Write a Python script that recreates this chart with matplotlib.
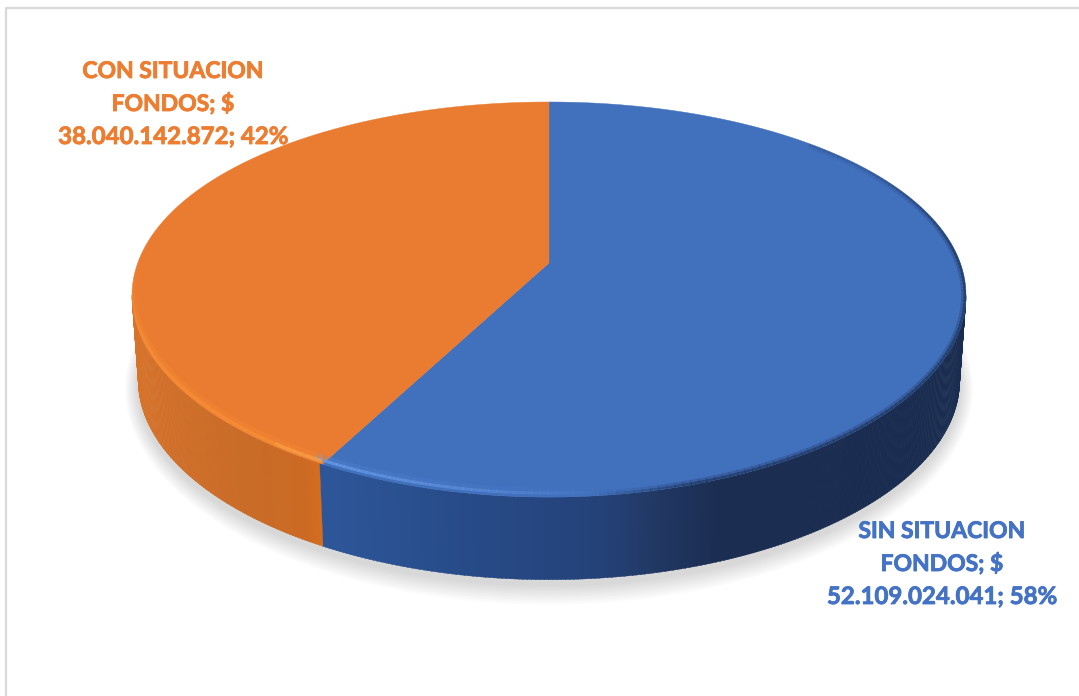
# Pie with a tilted 3D look, drawn by hand from the two values

import numpy as np
import matplotlib
matplotlib.use("Agg")
import matplotlib.pyplot as plt
import matplotlib.patheffects as pe
from matplotlib.patches import Polygon

categories = ["SIN SITUACION", "CON SITUACION"]
values = [52109024041, 38040142872]
colors = ["#4170BD", "#E97C30"]
label_colors = ["#4472C4", "#ED7D31"]
label_x = [942, 173]
label_y = [[538, 571, 604], [78, 111, 144]]

# stops for the shaded side, x pixel -> colour
side_x = [130, 170, 250, 305, 322, 330, 480, 600, 660, 720, 970]
side_rgb = ["#D8732A", "#D06F2A", "#C86C28", "#CC6A24", "#D66D1E",
            "#2D5699", "#274A86", "#24427A", "#213863", "#1B2E52", "#1A2D50"]

K = 0.185
KX = 0.165


def project(theta, cx, cy, a, b):
# theta in degrees clockwise from the top of the pie
# returns pixel x and y with a small perspective on the disc
    t = np.radians(theta)
    u = np.sin(t)
    v = np.cos(t)
    return cx + a * u / (1 + KX * v), cy - b * v / (1 + K * v)


def top(theta):
    return project(theta, 549, 263, 411.3, 190.8)


def bottom(theta):
    return project(theta, 549, 349, 405, 188)


def side_color(x):
    rgb = np.array([matplotlib.colors.to_rgb(c) for c in side_rgb])
    return [np.interp(x, side_x, rgb[:, i]) for i in range(3)]


fig = plt.figure(figsize=(10.79, 6.96), dpi=100)
ax = fig.add_axes([0, 0, 1, 1])
ax.set_xlim(0, 1079)
ax.set_ylim(696, 0)
ax.axis("off")

# chart frame, only left and top show in the picture
ax.plot([6, 6, 1079], [696, 8, 8], color="#D9D9D9", lw=1.6)

total = sum(values)
seam = 360 * values[0] / total

# soft shadow under the disc
th = np.linspace(0, 360, 361)
sx, sy = bottom(th)
for grow in np.arange(26, 0, -2):
    ax.fill(549 + (sx - 549) * (1 + grow / 800), 346 + (sy - 349) * (1 + grow / 300) + 8,
            color="#808080", alpha=0.024, lw=0)

# side wall as thin strips
for t0 in np.arange(99.5, 260.5, 0.5):
    x0, y0 = top(t0)
    x1, y1 = top(t0 + 0.6)
    x2, y2 = bottom(t0 + 0.6)
    x3, y3 = bottom(t0)
    if t0 < seam:
        c = side_color(max(x0, 330))
    else:
        c = side_color(min(x0, 322))
    ax.fill([x0, x1, x2, x3], [y0, y1, y2, y3], color=c, lw=0.3)

# top face
ang = [0, seam, 360]
for i in range(2):
    th = np.linspace(ang[i], ang[i + 1], 300)
    x, y = top(th)
    ax.fill(np.r_[549, x], np.r_[263, y], color=colors[i], lw=0.3, ec=colors[i])

# bevel lines stay inside the disc
dx, dy = top(np.linspace(0, 360, 721))
disc = Polygon(np.c_[dx, dy], closed=True, transform=ax.transData, fc="none", ec="none")
ax.add_patch(disc)


def rim(x, y, color, lw, alpha):
    line, = ax.plot(x, y, color=color, lw=lw, alpha=alpha, solid_capstyle="butt")
    line.set_clip_path(disc)


# bevel along the front rim: bright on the left part, dark towards the right
for t0 in np.arange(45, seam, 1.0):
    x, y = top(np.array([t0, t0 + 1.1]))
    bright = np.clip((x[0] - 600) / (330 - 600), 0, 1) ** 0.7
    dark = np.clip((x[0] - 600) / 100, 0, 1)
    fade = np.clip((t0 - 45) / 40, 0.25, 1)
    if bright > 0:
        rim(x, y - 6, "#5A8FE0", 5, 0.22 * bright)
        rim(x, y - 4, "#6A9CE8", 2.2, 0.7 * bright)
    if dark > 0:
        rim(x, y, "#1B2E52", 7, 0.25 * dark * fade)
        rim(x, y, "#1B2E52", 3.5, 0.55 * dark * fade)

for t0 in np.arange(seam, 272, 1.0):
    x, y = top(np.array([t0, t0 + 1.1]))
    f = np.clip((272 - t0) / 25, 0, 1)
    near = np.clip((seam + 14 - t0) / 14, 0, 1)
    c = "#FBA146" if near > 0.5 else "#F88E36"
    rim(x, y - 5, "#F88E36", 6, 0.3 * f)
    rim(x, y - 3, c, 2.5, 0.7 * f)

# data labels, one line at a time since the word lines run a bit narrower than the numbers
for i in range(2):
    pct = round(100 * values[i] / total)
    money = f"{values[i]:,}".replace(",", ".")
    lines = [categories[i], "FONDOS; $", f"{money}; {pct}%"]
    sizes = [16.5, 16.5, 17.3]
    for j in range(3):
        ax.text(label_x[i], label_y[i][j], lines[j], color=label_colors[i], family="Lato",
                weight="bold", fontsize=sizes[j], ha="center", va="baseline",
                path_effects=[pe.withStroke(linewidth=0.6, foreground=label_colors[i])])

fig.savefig("out.png", dpi=100)
